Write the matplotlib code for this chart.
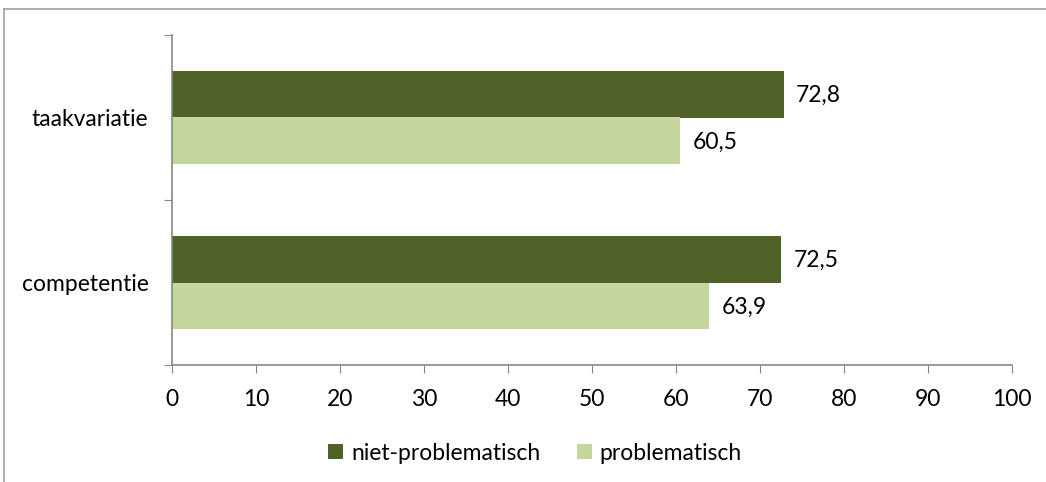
import matplotlib.pyplot as plt
from matplotlib.lines import Line2D
import numpy as np

plt.rcParams['font.family'] = ['Lato', 'DejaVu Sans']

categories = ['competentie', 'taakvariatie']
niet_problematisch = [72.5, 72.8]
problematisch = [63.9, 60.5]
series_names = ['niet-problematisch', 'problematisch']
xticks = [0, 10, 20, 30, 40, 50, 60, 70, 80, 90, 100]

dark = '#4F6228'
light = '#C3D69B'
grey = '#868686'
fs = 16.5

W, H = 1046, 482
fig = plt.figure(figsize=(W / 100, H / 100), dpi=100)
ax = fig.add_axes([172 / W, 1 - 365 / H, (1012 - 172) / W, (365 - 35) / H])

ind = np.arange(len(categories))
h = 0.28
b1 = ax.barh(ind + h / 2, niet_problematisch, h, color=dark, label=series_names[0])
b2 = ax.barh(ind - h / 2, problematisch, h, color=light, label=series_names[1])

for bars, vals in [(b1, niet_problematisch), (b2, problematisch)]:
    for bar, v in zip(bars, vals):
        ax.annotate(f"{v:.1f}".replace('.', ','),
                    (v, bar.get_y() + bar.get_height() / 2),
                    xytext=(9, -1), textcoords='offset points',
                    va='center', ha='left', fontsize=fs)

ax.set_xlim(0, 100)
ax.set_ylim(-0.5, 1.5)
ax.set_xticks(xticks)
ax.set_xticklabels([str(t) for t in xticks], fontsize=fs)
ax.set_yticks([-0.5, 0.5, 1.5])
ax.set_yticklabels([])
ax.set_yticks(ind, minor=True)
ax.set_yticklabels(categories, minor=True, fontsize=fs)
ax.tick_params(axis='y', which='minor', length=0, pad=17)
ax.tick_params(axis='y', which='major', length=6, color=grey)
ax.tick_params(axis='x', length=6, color=grey, pad=11)
for s in ['top', 'right']:
    ax.spines[s].set_visible(False)
for s in ['left', 'bottom']:
    ax.spines[s].set_color(grey)
    ax.spines[s].set_linewidth(1.2)

fig.legend(handles=[b1, b2], loc='center', bbox_to_anchor=(535 / W, 1 - 453 / H),
           ncol=2, frameon=False, fontsize=fs, handlelength=0.65, handleheight=0.65,
           handletextpad=0.35, columnspacing=1.6)

# outer chart border (only top and left visible)
fig.add_artist(Line2D([4 / W, 1], [1 - 9 / H, 1 - 9 / H], color='#A0A0A0', lw=1.2))
fig.add_artist(Line2D([4 / W, 4 / W], [0, 1 - 9 / H], color='#A0A0A0', lw=1.2))

fig.savefig('out.png', dpi=100, facecolor='white')
